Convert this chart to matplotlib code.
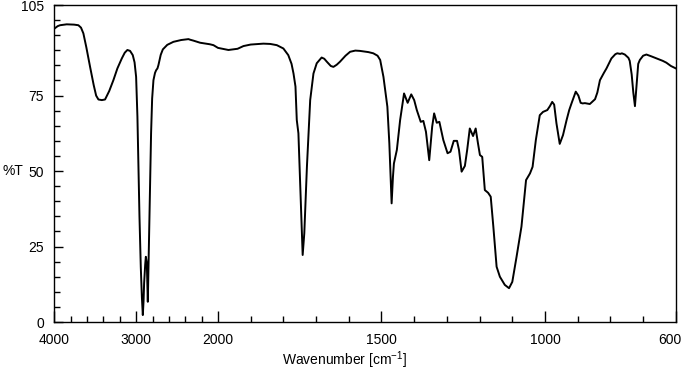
import numpy as np
import matplotlib
matplotlib.use("Agg")
import matplotlib.pyplot as plt
import matplotlib.transforms as mtransforms
from matplotlib.ticker import FixedLocator, NullFormatter, FixedFormatter

plt.rcParams['font.family'] = ['Liberation Sans', 'DejaVu Sans']
plt.rcParams['mathtext.fontset'] = 'custom'
plt.rcParams['mathtext.rm'] = 'Liberation Sans'
plt.rcParams['mathtext.default'] = 'regular'

wavenumber = [
    4000, 3960, 3931, 3850, 3760, 3707, 3675, 3646, 3610, 3564, 3520, 3490, 3462, 3420, 3381,
    3330, 3279, 3230, 3176, 3140, 3108, 3075, 3042, 3020, 3001, 2985, 2973, 2960, 2944, 2930,
    2919, 2910, 2903, 2890, 2882, 2875, 2870, 2863, 2858, 2850, 2842, 2830, 2818, 2805, 2789,
    2770, 2756, 2740, 2728, 2700, 2674, 2620, 2545, 2450, 2361, 2340, 2300, 2218, 2150, 2100,
    2055, 2000, 1968, 1940, 1922, 1900, 1861, 1840, 1820, 1800, 1785, 1775, 1769, 1763, 1759,
    1754, 1747, 1741, 1736, 1728, 1718, 1708, 1698, 1683, 1675, 1667, 1655, 1647, 1637, 1627,
    1610, 1596, 1580, 1566, 1540, 1525, 1512, 1504, 1494, 1482, 1476, 1471, 1469, 1465, 1462,
    1453, 1443, 1431, 1420, 1409, 1400, 1392, 1380, 1372, 1364, 1354, 1345, 1339, 1331, 1323,
    1311, 1298, 1289, 1279, 1269, 1263, 1255, 1245, 1238, 1230, 1220, 1212, 1205, 1199, 1192,
    1184, 1174, 1166, 1158, 1148, 1138, 1123, 1110, 1100, 1087, 1072, 1058, 1046, 1038, 1028,
    1016, 1006, 993, 985, 978, 972, 965, 955, 945, 934, 926, 919, 906, 898, 891,
    885, 878, 863, 847, 840, 832, 820, 812, 797, 785, 779, 770, 765, 756, 745,
    741, 735, 730, 725, 721, 718, 715, 710, 700, 690, 675, 659, 640, 629, 615, 600]

transmittance = [
    97.2, 98.0, 98.3, 98.6, 98.5, 98.3, 97.5, 95.6, 91.0, 84.5, 78.5, 75.0, 73.7, 73.5, 73.7,
    76.5, 80.1, 84.0, 87.3, 89.2, 90.1, 89.8, 88.4, 86.0, 81.2, 68.0, 51.4, 35.0, 18.3, 8.0,
    2.3, 7.0, 12.9, 19.0, 21.6, 20.5, 19.5, 12.0, 6.7, 18.0, 29.5, 45.0, 62.5, 74.0, 80.1,
    82.5, 83.4, 84.0, 85.1, 88.5, 90.3, 91.8, 92.8, 93.4, 93.7, 93.5, 93.2, 92.5, 92.2, 92.0,
    91.7, 90.8, 90.1, 90.5, 91.4, 91.9, 92.2, 92.1, 91.7, 90.6, 88.4, 85.5, 82.3, 78.0, 66.9,
    62.5, 40.4, 22.2, 29.4, 51.4, 73.5, 82.3, 85.7, 87.6, 87.2, 86.2, 84.8, 84.5, 85.2, 86.2,
    88.2, 89.5, 89.9, 89.8, 89.4, 89.0, 88.2, 86.8, 81.2, 71.3, 59.2, 45.0, 39.3, 48.0, 52.5,
    57.0, 66.9, 75.7, 72.6, 75.4, 73.5, 70.2, 66.3, 66.6, 63.0, 53.6, 64.7, 69.1, 66.0, 66.3,
    60.3, 55.9, 56.4, 60.0, 60.0, 57.0, 49.8, 51.7, 57.0, 64.1, 61.6, 64.1, 59.2, 55.3, 54.7,
    43.7, 42.8, 41.5, 31.6, 18.3, 15.0, 12.3, 11.2, 13.3, 21.6, 31.6, 47.0, 49.2, 51.4, 60.3,
    68.5, 69.6, 70.2, 71.5, 72.9, 72.0, 65.8, 59.0, 61.9, 66.9, 70.2, 72.4, 76.3, 75.0, 72.6,
    72.4, 72.5, 72.2, 73.8, 76.0, 80.1, 82.5, 84.0, 87.3, 88.7, 89.0, 88.8, 89.0, 88.6, 87.5,
    86.5, 82.0, 76.0, 71.5, 77.0, 81.2, 85.5, 86.8, 88.2, 88.6, 88.0, 87.3, 86.5, 85.9, 84.8, 84.0]

x_major = [4000, 3000, 2000, 1500, 1000, 600]
x_major_labels = ["4000", "3000", "2000", "1500", "1000", "600"]
y_major = [0, 25, 50, 75, 105]
y_major_labels = ["0", "25", "50", "75", "105"]


def fwd(x):
    x = np.asarray(x, dtype=float)
    return np.where(x > 2000, 2000 + (x - 2000) / 4.0, x)


def inv(y):
    y = np.asarray(y, dtype=float)
    return np.where(y > 2000, 2000 + (y - 2000) * 4.0, y)


fig = plt.figure(figsize=(6.83, 3.76), dpi=100)
ax = fig.add_axes([0.0797, 0.1436, 0.9098, 0.8431])
ax.set_xscale('function', functions=(fwd, inv))
ax.plot(wavenumber, transmittance, color='black', lw=1.4)
ax.set_xlim(4000, 600)
ax.set_ylim(0, 105)

x_minor = list(range(3800, 2000, -200)) + list(range(1900, 600, -100))
x_minor = [v for v in x_minor if v not in x_major]
ax.xaxis.set_major_locator(FixedLocator(x_major))
ax.xaxis.set_major_formatter(FixedFormatter(x_major_labels))
ax.xaxis.set_minor_locator(FixedLocator(x_minor))
ax.xaxis.set_minor_formatter(NullFormatter())

y_minor = [v for v in range(5, 105, 5) if v not in y_major]
ax.yaxis.set_major_locator(FixedLocator(y_major))
ax.yaxis.set_major_formatter(FixedFormatter(y_major_labels))
ax.yaxis.set_minor_locator(FixedLocator(y_minor))
ax.yaxis.set_minor_formatter(NullFormatter())

ax.tick_params(axis='x', which='major', direction='in', length=8, width=1.0,
               labelsize=10, pad=8, top=False)
ax.tick_params(axis='x', which='minor', direction='in', length=4.5, width=1.0, top=False)
ax.tick_params(axis='y', which='major', direction='in', length=6.5, width=1.0,
               labelsize=10, pad=7.5, right=False)
ax.tick_params(axis='y', which='minor', direction='in', length=4.3, width=1.0, right=False)

for s in ax.spines.values():
    s.set_linewidth(1.0)

fig.canvas.draw()
last = ax.get_xticklabels()[-1]
last.set_transform(last.get_transform() +
                   mtransforms.ScaledTranslation(-6 / 100, 0, fig.dpi_scale_trans))

fig.text(345 / 683, 1 - 360 / 376, 'Wavenumber [cm$^{-1}$]', fontsize=10,
         ha='center', va='center')
fig.text(0.004, 0.545, '%T', fontsize=10, ha='left', va='center')

fig.savefig('out.png', dpi=100)
